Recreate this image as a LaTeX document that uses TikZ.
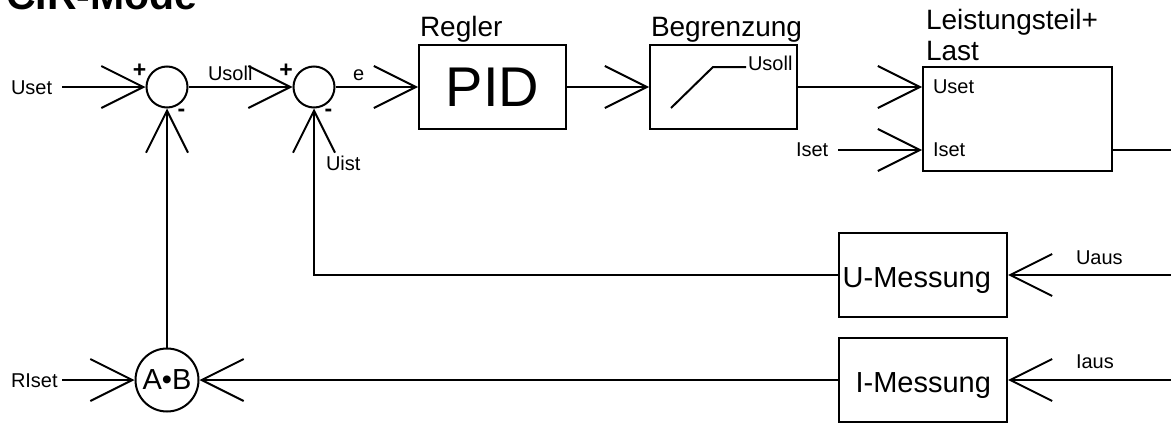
\documentclass[tikz,border=0pt]{standalone}
\usepackage{fontspec}
\setmainfont{Liberation Sans}
\usetikzlibrary{arrows.meta}
\begin{document}
\begin{tikzpicture}[x=1pt,y=-1pt,
  line width=2pt,
  conn/.style={draw, -{Straight Barb[length=42pt,width=42pt]}},
  sumc/.style={draw, circle, minimum size=41pt, inner sep=0pt},
  blk/.style={draw, rectangle, inner sep=0pt},
  sm/.style={font=\fontsize{20}{24}\selectfont, inner sep=0pt, anchor=base west},
  lg/.style={font=\fontsize{28}{32}\selectfont, inner sep=0pt, anchor=base west},
  sign/.style={font=\fontsize{23}{24}\selectfont\bfseries, inner sep=0pt},
]
\useasboundingbox (0,0) rectangle (1171,423);

% title (cut off at top)
\node[font=\fontsize{41}{45}\selectfont\bfseries, inner sep=0pt, anchor=base west] (title) at (5,9.5) {CIR-Mode};

% summing points
\node[sumc] (s1) at (167,87) {};
\node[sumc] (s2) at (314,87) {};
\node[sign] (s1p) at (139.5,71) {+};
\node[sign] (s1m) at (181.5,113) {-};
\node[sign] (s2p) at (286,71) {+};
\node[sign] (s2m) at (328.5,113) {-};

% blocks
\node[blk, minimum width=147pt, minimum height=84pt] (pid) at (492.5,87) {\fontsize{56}{60}\selectfont PID};
\node[blk, minimum width=147pt, minimum height=84pt] (begr) at (723.5,87) {};
\node[blk, minimum width=189pt, minimum height=104pt] (leist) at (1017.5,119) {};
\node[blk, minimum width=168pt, minimum height=84pt] (umess) at (923,275) {};
\node[blk, minimum width=168pt, minimum height=84pt] (imess) at (923,380) {};
\node[draw, circle, minimum size=63pt, inner sep=0pt, font=\fontsize{29}{32}\selectfont] (ab) at (167,380) {A•B};

% block titles
\node[lg] (treg) at (419,36) {Regler};
\node[lg] (tbeg) at (650,36) {Begrenzung};
\node[lg] (tle1) at (925,29) {Leistungsteil+};
\node[lg] (tle2) at (925,60) {Last};
\node[font=\fontsize{29}{32}\selectfont, inner sep=0pt, anchor=base east] (tum) at (992,287) {U-Messung};
\node[font=\fontsize{29}{32}\selectfont, inner sep=0pt, anchor=base east] (tim) at (992,392) {I-Messung};

% signal labels
\node[sm] (tuset) at (10,94) {Uset};
\node[sm] (tusoll) at (207,80) {Usoll};
\node[sm] (te) at (352,80) {e};
\node[sm] (tuist) at (325,170) {Uist};
\node[sm] (tbus) at (747,70) {Usoll};
\node[sm] (tlu) at (932,93) {Uset};
\node[sm] (tli) at (932,156) {Iset};
\node[sm] (tiset) at (795,156) {Iset};
\node[sm] (tuaus) at (1075,264) {Uaus};
\node[sm] (tiaus) at (1075,368) {Iaus};
\node[sm] (trset) at (10,387) {RIset};

% ramp characteristic
\draw (671,108) -- (713,67) -- (746,67);

% free ends
\coordinate (uset0) at (62,87);
\coordinate (rset0) at (62,380);
\coordinate (iset0) at (838,150);
\coordinate (uaus0) at (1175,275);
\coordinate (iaus0) at (1175,380);
\coordinate (lout) at (1175,150);

% connectors
\draw[conn] (uset0) -- (s1.west);
\draw[conn] (s1.east) -- (s2.west);
\draw[conn] (s2.east) -- (pid.west);
\draw[conn] (pid.east) -- (begr.west);
\draw[conn] (begr.east) -- (begr.east -| leist.west);
\draw[conn] (iset0) -- (iset0 -| leist.west);
\draw (lout -| leist.east) -- (lout);
\draw[conn] (uaus0) -- (umess.east);
\draw[conn] (iaus0) -- (imess.east);
\draw[conn] (umess.west) -- (s2.south |- umess.west) -- (s2.south);
\draw[conn] (imess.west) -- (ab.east);
\draw[conn] (rset0) -- (ab.west);
\draw[conn] (ab.north) -- (s1.south);
\end{tikzpicture}
\end{document}
